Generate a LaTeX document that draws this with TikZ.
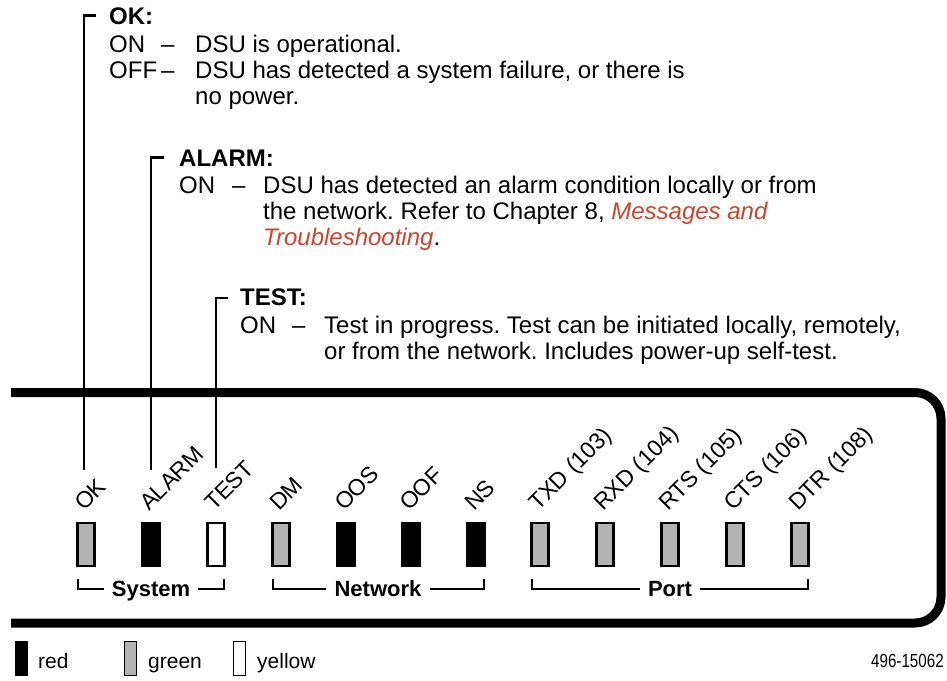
\documentclass[tikz,border=0pt]{standalone}
\usepackage{fontspec}
\setmainfont{Liberation Sans}
\frenchspacing
\definecolor{xref}{HTML}{C9452E}
\definecolor{ledgreen}{HTML}{B3B3B3}
\begin{document}
\begin{tikzpicture}[x=1pt,y=-1pt,line cap=butt,line join=miter,
  body/.style={anchor=base west,inner sep=0pt,font=\fontsize{24}{26}\selectfont},
  head/.style={anchor=base west,inner sep=0pt,font=\fontsize{24}{26}\selectfont\bfseries},
  leader/.style={line width=2.5pt},
  panel/.style={line width=9pt,rounded corners=26pt},
  led/.style={draw,line width=2.5pt,minimum width=17pt,minimum height=43pt,inner sep=0pt},
  ledred/.style={led,fill=black},
  ledgrn/.style={led,fill=ledgreen},
  ledyel/.style={led,fill=white},
  ledlabel/.style={anchor=base west,rotate=45,inner sep=0pt,font=\fontsize{23}{23}\selectfont},
  grplabel/.style={inner xsep=8pt,inner ysep=0pt,text height=15.8pt,text depth=0pt,
                   font=\fontsize{22}{22}\selectfont\bfseries},
  bracket/.style={line width=2.5pt},
  keybox/.style={draw,line width=1.5pt,minimum width=12pt,minimum height=34pt,inner sep=0pt},
  keytext/.style={anchor=base west,inner sep=0pt,font=\fontsize{21}{21}\selectfont}]
\useasboundingbox (0,0) rectangle (947,680);

% ---- OK description ----
\node[head] (hOK) at (109,24) {OK:};
\node[body] (okOn) at (109,52) {ON};
\node[body] (okOnDash) at (161,52) {–};
\node[body] (okOnTxt) at (195,52) {DSU is operational.};
\node[body] (okOff) at (109,78) {OFF};
\node[body] (okOffDash) at (161,78) {–};
\node[body] (okOffTxt) at (195,78) {DSU has detected a system failure, or there is};
\node[body] (okOffTxt2) at (195,104) {no power.};

% ---- ALARM description ----
\node[head] (hAL) at (179,166) {ALARM:};
\node[body] (alOn) at (179,193) {ON};
\node[body] (alOnDash) at (232,193) {–};
\node[body] (alTxt1) at (263,193) {DSU has detected an alarm condition locally or from};
\node[body] (alTxt2) at (263,219) {the network. Refer to Chapter 8, \textcolor{xref}{\itshape Messages and}};
\node[body] (alTxt3) at (263,245) {\textcolor{xref}{\itshape Troubleshooting}.};

% ---- TEST description ----
\node[head] (hTS) at (240,305) {TEST:};
\node[body] (tsOn) at (240,333) {ON};
\node[body] (tsOnDash) at (292,333) {–};
\node[body] (tsTxt1) at (324,333) {Test in progress. Test can be initiated locally, remotely,};
\node[body] (tsTxt2) at (324,359) {or from the network. Includes power-up self-test.};

% ---- front panel outline (open on the left) ----
\draw[panel] (11,392.5) -- (941,392.5) -- (941,623) -- (11,623);

% ---- indicators ----
\node[ledgrn] (ledOK)  at (86,544.5)  {};
\node[ledred] (ledAL)  at (151,544.5) {};
\node[ledyel] (ledTS)  at (216,544.5) {};
\node[ledgrn] (ledDM)  at (281,544.5) {};
\node[ledred] (ledOOS) at (346,544.5) {};
\node[ledred] (ledOOF) at (411,544.5) {};
\node[ledred] (ledNS)  at (476,544.5) {};
\node[ledgrn] (ledTXD) at (540,544.5) {};
\node[ledgrn] (ledRXD) at (605,544.5) {};
\node[ledgrn] (ledRTS) at (670,544.5) {};
\node[ledgrn] (ledCTS) at (735,544.5) {};
\node[ledgrn] (ledDTR) at (800,544.5) {};

% ---- indicator names ----
\node[ledlabel] (lOK)  at (84,512)  {OK};
\node[ledlabel] (lAL)  at (149,512) {ALARM};
\node[ledlabel] (lTS)  at (214,512) {TEST};
\node[ledlabel] (lDM)  at (279,512) {DM};
\node[ledlabel] (lOOS) at (344,512) {OOS};
\node[ledlabel] (lOOF) at (409,512) {OOF};
\node[ledlabel] (lNS)  at (474,512) {NS};
\node[ledlabel] (lTXD) at (538,512) {TXD (103)};
\node[ledlabel] (lRXD) at (603,512) {RXD (104)};
\node[ledlabel] (lRTS) at (668,512) {RTS (105)};
\node[ledlabel] (lCTS) at (733,512) {CTS (106)};
\node[ledlabel] (lDTR) at (798,512) {DTR (108)};

% ---- leader lines from the descriptions down to the indicators ----
\coordinate (okTick) at (96,15.5);
\coordinate (okBend) at (84,15.5);
\coordinate (okEnd)  at (84,470);
\draw[leader] (okTick) -- (okBend) -- (okEnd);
\coordinate (alTick) at (164,157.5);
\coordinate (alBend) at (151,157.5);
\coordinate (alEnd)  at (151,470);
\draw[leader] (alTick) -- (alBend) -- (alEnd);
\coordinate (tsTick) at (228,298);
\coordinate (tsBend) at (216,298);
\coordinate (tsEnd)  at (216,468);
\draw[leader] (tsTick) -- (tsBend) -- (tsEnd);

% ---- group brackets ----
\node[grplabel] (gSys) at (151,589) {System};
\coordinate (sysL) at (78,579);
\coordinate (sysR) at (224,579);
\draw[bracket] (sysL) |- (gSys.west);
\draw[bracket] (gSys.east) -| (sysR);

\node[grplabel] (gNet) at (378,589) {Network};
\coordinate (netL) at (273,579);
\coordinate (netR) at (484,579);
\draw[bracket] (netL) |- (gNet.west);
\draw[bracket] (gNet.east) -| (netR);

\node[grplabel] (gPort) at (670,589) {Port};
\coordinate (prtL) at (532,579);
\coordinate (prtR) at (808,579);
\draw[bracket] (prtL) |- (gPort.west);
\draw[bracket] (gPort.east) -| (prtR);

% ---- colour key ----
\node[keybox,fill=black]    (kRed) at (21.5,658.5) {};
\node[keytext] (tRed) at (38,668) {red};
\node[keybox,fill=ledgreen] (kGrn) at (130.5,658.5) {};
\node[keytext] (tGrn) at (148,668) {green};
\node[keybox,fill=white]    (kYel) at (239.5,658.5) {};
\node[keytext] (tYel) at (257,668) {yellow};

% ---- figure number ----
\node[anchor=base east,inner sep=0pt,font=\fontsize{19}{19}\selectfont] (figno) at (944,667)
  {\scalebox{0.8}[1]{496-15062}};
\end{tikzpicture}
\end{document}
